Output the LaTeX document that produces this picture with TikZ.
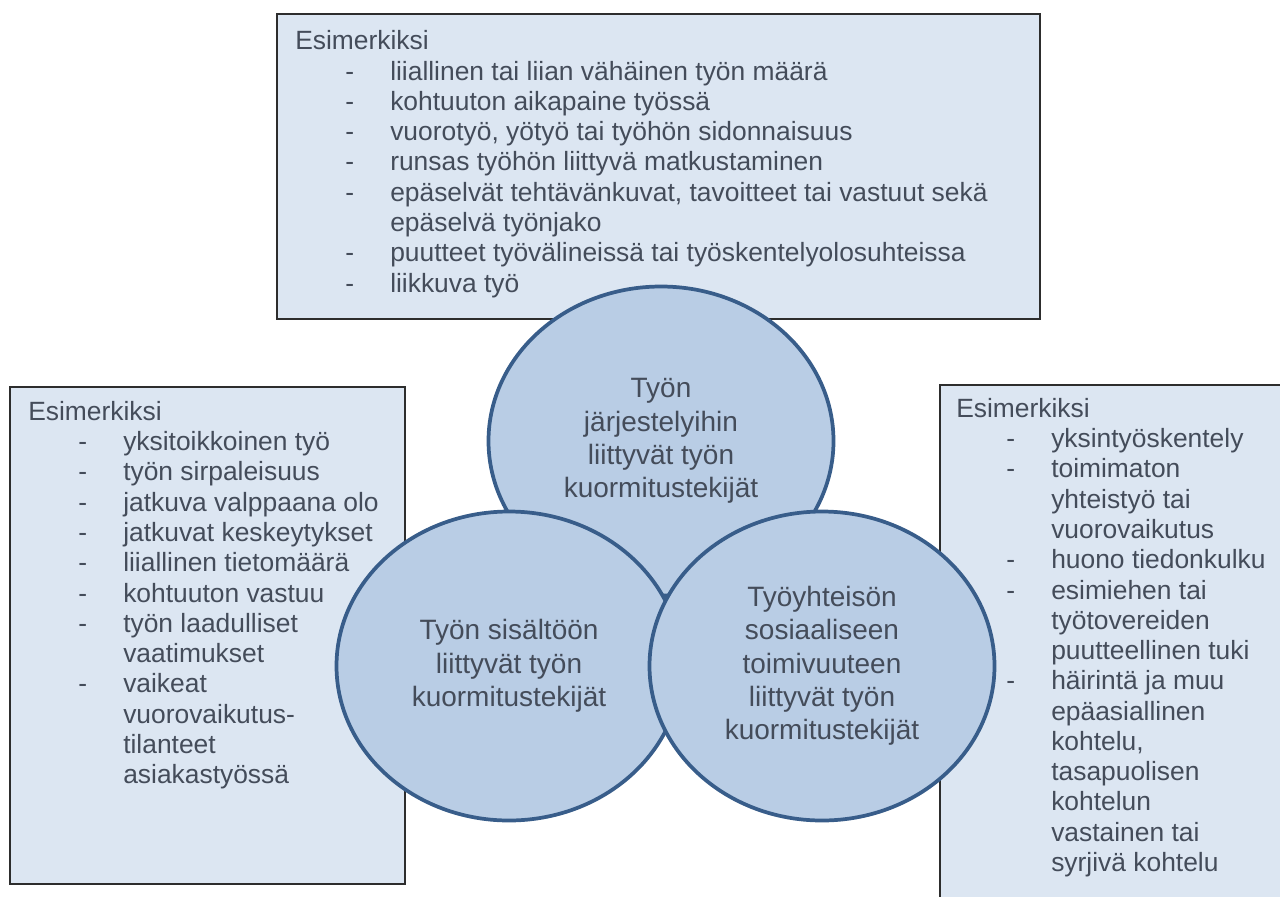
\documentclass[tikz,border=0pt]{standalone}
\usepackage{fontspec}
\setmainfont{Liberation Sans}
\usetikzlibrary{shapes.geometric}
\definecolor{boxfill}{RGB}{220,230,242}
\definecolor{boxline}{RGB}{45,45,45}
\definecolor{ringfill}{RGB}{185,205,229}
\definecolor{ringline}{RGB}{56,93,138}
\definecolor{txtgray}{RGB}{68,76,90}
\newcommand{\itm}[1]{\hspace*{37.5pt}\makebox[33.75pt][l]{-}#1}
\newcommand{\cnt}[1]{\hspace*{71.25pt}#1}

\begin{document}
\begin{tikzpicture}[x=0.75pt,y=0.75pt,yscale=-1,xscale=1,
  listbox/.style={draw=boxline,fill=boxfill,line width=1.1pt},
  listtext/.style={anchor=north west,inner sep=0pt,align=left,text=txtgray,
    font=\fontsize{19.8}{22.7}\selectfont},
  ring/.style={ellipse,draw=ringline,fill=ringfill,line width=2.8pt,inner sep=0pt,
    minimum width=258.75pt,minimum height=231.75pt,align=center,text=txtgray,
    font=\fontsize{21}{25}\selectfont}]
\useasboundingbox (0,0) rectangle (1280,896);

%Example boxes
\draw [listbox] (277,14) rectangle (1040,319) ;
\draw [listbox] (10,387) rectangle (405,884) ;
\draw [listbox] (940,385) rectangle (1300,920) ;

% Text Node
\node [listtext] (toplist) at (295,30.5) {Esimerkiksi\\
\itm{liiallinen tai liian vähäinen työn määrä}\\
\itm{kohtuuton aikapaine työssä}\\
\itm{vuorotyö, yötyö tai työhön sidonnaisuus}\\
\itm{runsas työhön liittyvä matkustaminen}\\
\itm{epäselvät tehtävänkuvat, tavoitteet tai vastuut sekä}\\
\cnt{epäselvä työnjako}\\
\itm{puutteet työvälineissä tai työskentelyolosuhteissa}\\
\itm{liikkuva työ}};
% Text Node
\node [listtext] (leftlist) at (28,401) {Esimerkiksi\\
\itm{yksitoikkoinen työ}\\
\itm{työn sirpaleisuus}\\
\itm{jatkuva valppaana olo}\\
\itm{jatkuvat keskeytykset}\\
\itm{liiallinen tietomäärä}\\
\itm{kohtuuton vastuu}\\
\itm{työn laadulliset}\\
\cnt{vaatimukset}\\
\itm{vaikeat}\\
\cnt{vuorovaikutus-}\\
\cnt{tilanteet}\\
\cnt{asiakastyössä}};
% Text Node
\node [listtext] (rightlist) at (956,398) {Esimerkiksi\\
\itm{yksintyöskentely}\\
\itm{toimimaton}\\
\cnt{yhteistyö tai}\\
\cnt{vuorovaikutus}\\
\itm{huono tiedonkulku}\\
\itm{esimiehen tai}\\
\cnt{työtovereiden}\\
\cnt{puutteellinen tuki}\\
\itm{häirintä ja muu}\\
\cnt{epäasiallinen}\\
\cnt{kohtelu,}\\
\cnt{tasapuolisen}\\
\cnt{kohtelun}\\
\cnt{vastainen tai}\\
\cnt{syrjivä kohtelu}};

%Circles
\node [ring] (jarjestelyt) at (661,441) {Työn\\järjestelyihin\\liittyvät työn\\kuormitustekijät};
\node [ring] (sisalto) at (509,666) {Työn sisältöön\\liittyvät työn\\kuormitustekijät};
\node [ring] (yhteiso) at (822,666) {Työyhteisön\\sosiaaliseen\\toimivuuteen\\liittyvät työn\\kuormitustekijät};

\end{tikzpicture}
\end{document}
